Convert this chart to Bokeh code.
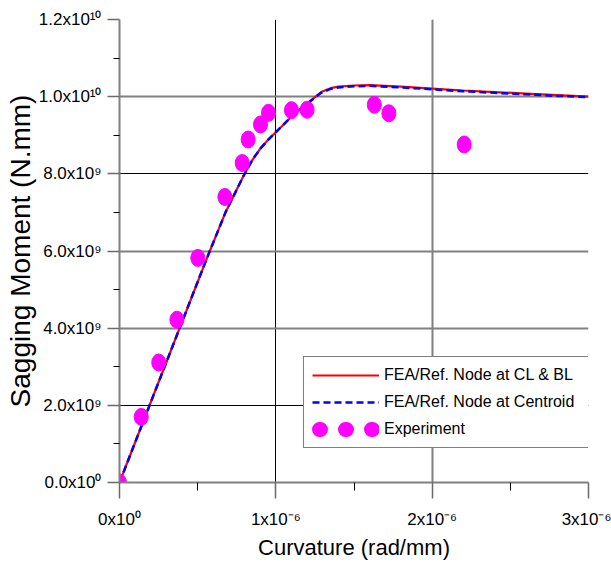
from bokeh.plotting import figure
from bokeh.models import (Range1d, FixedTicker, Grid, Legend, LegendItem,
                          CustomJSTickFormatter, ColumnDataSource)
from bokeh.embed import file_html
from bokeh.resources import INLINE

# ---------------- data ----------------
curv_fea = [0.0, 0.2e-6, 0.4e-6, 0.55e-6, 0.6e-6, 0.68e-6, 0.8e-6, 0.85e-6, 0.9e-6,
            0.95e-6, 1.0e-6, 1.1e-6, 1.2e-6, 1.29e-6, 1.35e-6, 1.4e-6, 1.5e-6, 1.6e-6,
            1.8e-6, 2.0e-6, 2.2e-6, 2.4e-6, 2.6e-6, 2.8e-6, 3.0e-6]
moment_cl_bl = [0.0, 2.08e9, 4.16e9, 5.72e9, 6.22e9, 7.02e9, 8.0e9, 8.36e9, 8.65e9,
                8.88e9, 9.08e9, 9.48e9, 9.82e9, 10.12e9, 10.22e9, 10.26e9, 10.29e9,
                10.30e9, 10.26e9, 10.21e9, 10.16e9, 10.12e9, 10.08e9, 10.04e9, 10.0e9]
moment_centroid = [0.0, 2.08e9, 4.16e9, 5.72e9, 6.22e9, 7.02e9, 8.0e9, 8.36e9, 8.65e9,
                   8.88e9, 9.08e9, 9.48e9, 9.82e9, 10.10e9, 10.20e9, 10.24e9, 10.27e9,
                   10.28e9, 10.24e9, 10.19e9, 10.14e9, 10.10e9, 10.06e9, 10.02e9, 9.99e9]
exp_curv = [0.0, 0.139e-6, 0.251e-6, 0.367e-6, 0.501e-6, 0.674e-6, 0.785e-6, 0.823e-6,
            0.902e-6, 0.953e-6, 1.10e-6, 1.20e-6, 1.63e-6, 1.723e-6, 2.205e-6]
exp_moment = [0.0, 1.70e9, 3.11e9, 4.22e9, 5.82e9, 7.40e9, 8.28e9, 8.89e9,
              9.28e9, 9.58e9, 9.65e9, 9.66e9, 9.79e9, 9.57e9, 8.76e9]

x_ticks = [0.0, 1e-6, 2e-6, 3e-6]
x_tick_labels = ["0x10\u2070", "1x10\u207b\u2076", "2x10\u207b\u2076", "3x10\u207b\u2076"]
x_minor = [0.5e-6, 1.5e-6, 2.5e-6]
y_ticks = [0.0, 2e9, 4e9, 6e9, 8e9, 1.0e10, 1.2e10]
y_tick_labels = ["0.0x10\u2070", "2.0x10\u2079", "4.0x10\u2079", "6.0x10\u2079",
                 "8.0x10\u2079", "1.0x10\u00b9\u2070", "1.2x10\u00b9\u2070"]
y_minor = [1e9, 3e9, 5e9, 7e9, 9e9, 1.1e10]
x_grid_dark = [1e-6, 3e-6]
x_grid_gray = [2e-6]
y_grid_dark = [2e9, 8e9]
y_grid_gray = [4e9, 6e9, 1.0e10, 1.2e10]

legend_labels = ["FEA/Ref. Node at CL & BL", "FEA/Ref. Node at Centroid", "Experiment"]

FONT = "Liberation Sans"

p = figure(width=611, height=563, output_backend="svg", toolbar_location=None,
           x_range=Range1d(0, 3e-6), y_range=Range1d(0, 1.2e10),
           min_border_left=119, min_border_right=23, min_border_top=19,
           min_border_bottom=81)
p.outline_line_color = None
p.background_fill_color = "white"
p.border_fill_color = "white"
p.xgrid.visible = False
p.ygrid.visible = False

for ticks, color, w in [(x_grid_dark, "black", 1), (x_grid_gray, "#808080", 2)]:
    p.add_layout(Grid(dimension=0, ticker=FixedTicker(ticks=ticks),
                      grid_line_color=color, grid_line_width=w))
for ticks, color, w in [(y_grid_dark, "black", 1), (y_grid_gray, "#808080", 2)]:
    p.add_layout(Grid(dimension=1, ticker=FixedTicker(ticks=ticks),
                      grid_line_color=color, grid_line_width=w))

# axes
xa = p.xaxis[0]
xa.ticker = FixedTicker(ticks=x_ticks, minor_ticks=x_minor)
xa.formatter = CustomJSTickFormatter(args=dict(labels=x_tick_labels),
                                     code="return labels[index];")
ya = p.yaxis[0]
ya.ticker = FixedTicker(ticks=y_ticks, minor_ticks=y_minor)
ya.formatter = CustomJSTickFormatter(args=dict(labels=y_tick_labels),
                                     code="return labels[index];")

for ax in (xa, ya):
    ax.axis_line_color = "#808080"
    ax.axis_line_width = 2
    ax.major_tick_in = 0
    ax.minor_tick_in = 0
    ax.major_tick_line_color = "#6a6a6a"
    ax.major_tick_line_width = 1.5
    ax.minor_tick_line_color = "black"
    ax.minor_tick_line_width = 1
    ax.major_label_text_font = FONT
    ax.major_label_text_font_size = "17px"
    ax.major_label_text_color = "black"
    ax.axis_label_text_font = FONT
    ax.axis_label_text_font_style = "normal"
    ax.axis_label_text_color = "black"

xa.major_tick_out = 16
xa.minor_tick_out = 8
xa.major_label_standoff = 11
xa.axis_label = "Curvature (rad/mm)"
xa.axis_label_text_font_size = "22px"
xa.axis_label_standoff = 3

ya.major_tick_out = 12
ya.minor_tick_out = 6
ya.major_label_standoff = 6
ya.axis_label = "Sagging Moment (N.mm)"
ya.axis_label_text_font_size = "28px"
ya.axis_label_standoff = 0

# data renderers
fea_src = ColumnDataSource(dict(x=curv_fea, y1=moment_cl_bl, y2=moment_centroid))
exp_src = ColumnDataSource(dict(x=exp_curv, y=exp_moment))

r_red = p.line("x", "y1", source=fea_src, line_color="#ff0000", line_width=2.2)
r_blue = p.line("x", "y2", source=fea_src, line_color="#0000ff", line_width=2.5,
                line_dash="7 4")
p.ellipse("x", "y", source=exp_src, width=14, height=17, width_units="screen",
          height_units="screen", fill_color="#ff00ff", line_color="#ff00ff")

# legend proxy for the "three dots" symbol: a one-point line (draws nothing in
# the plot) whose dotted round-capped stroke gives the legend symbol
leg_src = ColumnDataSource(dict(x=exp_curv[:1], y=exp_moment[:1]))
r_exp_leg = p.line("x", "y", source=leg_src, line_color="#ff00ff", line_width=15,
                   line_dash="1 25", line_dash_offset=19, line_cap="round")

legend = Legend(items=[LegendItem(label=legend_labels[0], renderers=[r_red]),
                       LegendItem(label=legend_labels[1], renderers=[r_blue]),
                       LegendItem(label=legend_labels[2], renderers=[r_exp_leg])],
                location=(184, 34))
legend.label_text_font = FONT
legend.label_text_font_size = "16px"
legend.label_text_color = "black"
legend.glyph_width = 67
legend.glyph_height = 20
legend.label_height = 20
legend.label_width = 196
legend.label_standoff = 5
legend.spacing = 7
legend.padding = 8
legend.margin = 0
legend.border_line_color = "black"
legend.border_line_width = 1
legend.background_fill_color = "white"
legend.background_fill_alpha = 1.0
p.add_layout(legend, "center")

open("out.html", "w").write(file_html(p, INLINE))
